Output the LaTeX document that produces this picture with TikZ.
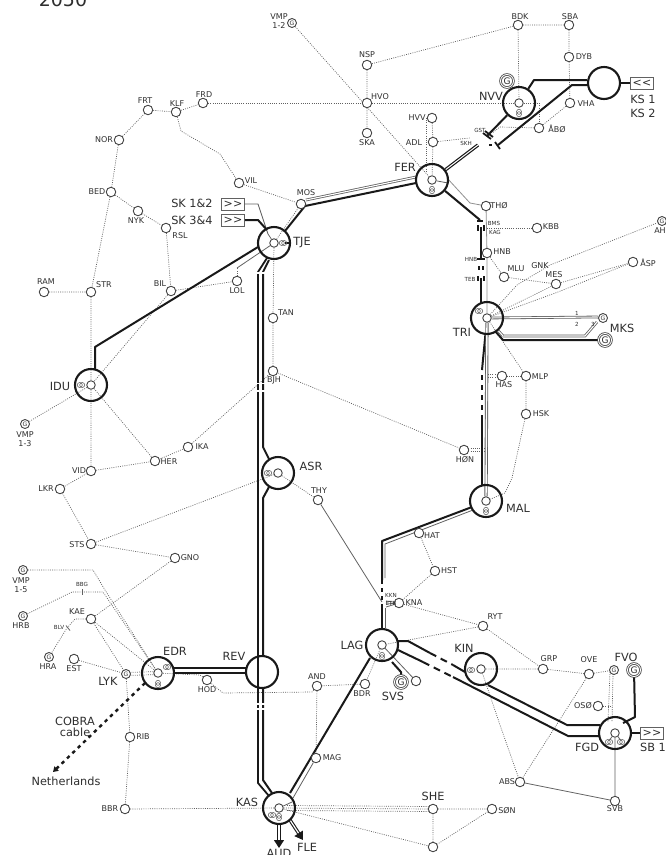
\documentclass[tikz,border=0pt]{standalone}
\usepackage{fontspec}
\setmainfont{DejaVu Sans}
\usetikzlibrary{arrows.meta,calc}
\pgfdeclarelayer{bg}
\pgfsetlayers{bg,main}
\definecolor{ln}{gray}{0.1}
\definecolor{gr}{gray}{0.38}
\definecolor{tx}{gray}{0.18}
\tikzset{
 sm/.style={circle,draw=gr!70!black,fill=white,line width=.9pt,minimum size=9.5pt,inner sep=0pt},
 bigc/.style={circle,draw=ln,line width=2.1pt,minimum size=32pt,inner sep=0pt},
 lb/.style={text=tx,font=\fontsize{8}{9}\selectfont,inner sep=0pt,align=center},
 tl/.style={text=tx,font=\fontsize{5.6}{6}\selectfont,inner sep=0pt},
 bl/.style={text=tx,font=\fontsize{11.3}{11.5}\selectfont,inner sep=0pt,align=center},
 gen/.style={circle,double=white,draw=gr!70!black,line width=.8pt,double distance=.9pt,minimum size=13pt,inner sep=0pt,font=\fontsize{9}{9}\selectfont,text=tx,fill=white},
 gens/.style={circle,draw=gr!70!black,line width=.9pt,minimum size=9pt,inner sep=0pt,font=\fontsize{6}{6}\selectfont,text=tx,fill=white},
 dot/.style={draw=gr,line width=.7pt,dash pattern=on .9pt off 1.3pt},
 thin/.style={draw=gr,line width=.8pt},
 tk/.style={draw=ln,line width=2pt,line join=round},
 tkm/.style={draw=ln,line width=1.8pt,line join=round},
 dbl/.style={draw=gr,line width=.8pt,double=white,double distance=1.1pt},
 dbk/.style={draw=ln,line width=1.2pt,double=white,double distance=1pt},
 boxn/.style={draw=gr,fill=white,line width=.9pt,minimum width=23pt,minimum height=12pt,inner sep=0pt,font=\fontsize{11}{11}\selectfont,text=tx},
 gap/.style={draw=white,line width=1.5pt},
 xfr/.style={circle,draw=gr,line width=.6pt,minimum size=5pt,inner sep=0pt},
}
\newcommand\st[4]{\node[sm](#1) at(#2){}; \node[lb](#1t) at(#3){#4};}
\newcommand\lbl[3]{\node[bl](#1) at(#2){#3};}
\newcommand\tny[3]{\node[tl](#1) at(#2){#3};}
\newcommand\xh[2]{\node[xfr](#1a) at($(#2)+(-1.2,0)$){}; \node[xfr](#1b) at($(#2)+(1.2,0)$){};}
\newcommand\xv[2]{\node[xfr](#1a) at($(#2)+(0,-1.2)$){}; \node[xfr](#1b) at($(#2)+(0,1.2)$){};}
\newcommand\rgt{{>}\kern.3pt{>}}
\newcommand\lft{{<}\kern.3pt{<}}
\begin{document}
\begin{tikzpicture}[x=1pt,y=-1pt]
\useasboundingbox (0,0) rectangle (665,855);
% big stations
\foreach \n/\p in {NVV/{519,103},KS/{604,83},FER/{432,180},TRI/{487,318},MAL/{486,501},LAG/{382,645},KIN/{481,669},FGD/{615,733},KAS/{279,808},TJE/{274,243},IDU/{91,385},ASR/{278,473},EDR/{158,673},REV/{262,672}}
 {\node[bigc](\n) at(\p){};}
% inner nodes
\foreach \n/\p in {NVVi/{519,103},FERi/{432,180},TRIi/{487,318},MALi/{486,501},LAGi/{382,645},KINi/{481,669},FGDi/{615,733},KASi/{279,808},TJEi/{274,243},IDUi/{91,385},ASRi/{278,473},EDRi/{158,673}}
 {\node[sm,minimum size=8.5pt](\n) at(\p){};}
% small stations
\st{BDK}{518,25}{520,17}{BDK}
\st{SBA}{569,25}{570,17}{SBA}
\st{DYB}{569,57}{584,57}{DYB}
\st{NSP}{367,65}{367,55}{NSP}
\st{HVO}{367,103}{380,97}{HVO}
\st{SKA}{367,133}{367,143}{SKA}
\st{HVV}{432,118}{417,118}{HVV}
\st{ADL}{433,142}{414,143}{ADL}
\st{VHA}{570,103}{586,104}{VHA}
\st{ABO}{539,128}{557,129}{ÅBØ}
\st{THO}{486,206}{499,206}{THØ}
\st{KBB}{537,228}{551,227}{KBB}
\st{HNB}{487,253}{502,252}{HNB}
\st{MLU}{504,277}{516,269}{MLU}
\st{MES}{556,284}{554,275}{MES}
\st{ASP}{633,262}{648,263}{ÅSP}
\st{HAS}{502,376}{504,385}{HAS}
\st{MLP}{526,376}{540,377}{MLP}
\st{HSK}{526,414}{541,414}{HSK}
\st{HON}{464,450}{465,460}{HØN}
\st{HAT}{419,533}{432,536}{HAT}
\st{HST}{435,571}{449,571}{HST}
\st{KNA}{399,603}{414,603}{KNA}
\st{RYT}{483,626}{495,617}{RYT}
\st{GRP}{543,669}{549,659}{GRP}
\st{OVE}{589,674}{589,660}{OVE}
\st{OSO}{598,706}{583,706}{OSØ}
\st{BDR}{365,684}{362,694}{BDR}
\st{AND}{317,686}{317,677}{AND}
\st{MAG}{316,758}{332,758}{MAG}
\st{ABS}{520,782}{507,782}{ABS}
\st{SVB}{615,801}{615,809}{SVB}
\st{SON}{492,809}{507,811}{SØN}
\node[sm](SHE) at(433,809){};
\node[sm](BOT) at(433,847){};
\node[sm](XLG) at(416,681){};
\st{RIB}{130,737}{143,737}{RIB}
\st{BBR}{125,809}{110,809}{BBR}
\st{HOD}{207,680}{207,690}{HOD}
\st{EST}{74,659}{74,669}{EST}
\st{KAE}{91,619}{77,612}{KAE}
\st{GNO}{175,558}{190,558}{GNO}
\st{STS}{91,544}{77,545}{STS}
\st{LKR}{60,489}{46,489}{LKR}
\st{VID}{91,471}{79,471}{VID}
\st{HER}{155,461}{169,462}{HER}
\st{IKA}{188,447}{202,447}{IKA}
\st{THY}{318,500}{319,491}{THY}
\st{BJH}{273,371}{274,380}{BJH}
\st{TAN}{273,318}{286,313}{TAN}
\st{LOL}{237,281}{237,291}{LOL}
\st{BIL}{171,291}{160,284}{BIL}
\st{STR}{91,292}{104,285}{STR}
\st{RAM}{44,292}{46,282}{RAM}
\st{FRT}{148,110}{145,101}{FRT}
\st{KLF}{176,112}{177,104}{KLF}
\st{FRD}{203,103}{204,95}{FRD}
\st{NOR}{119,140}{104,140}{NOR}
\st{VIL}{239,183}{251,181}{VIL}
\st{MOS}{301,204}{306,193}{MOS}
\st{BED}{111,192}{97,192}{BED}
\st{NYK}{138,211}{136,221}{NYK}
\st{RSL}{166,228}{180,236}{RSL}
% generators
\node[gen](GNV) at(507,81){G};
\node[gen](GMK) at(605,340){G};
\node[gen](GSV) at(401,682){G};
\node[gen](GFV) at(634,670){G};
\foreach \n/\p in {GV12/{292,23},GAH/{662,221},GMS/{603,318},GV13/{25,424},GV15/{23,570},GHRB/{23,616},GHRA/{49,657},GLYK/{126,674},GFG/{614,670}}
 {\node[gens](\n) at(\p){G};}
% boxes
\node[boxn](BKS) at(642,83){\lft};
\node[boxn](BSK1) at(233,204){\rgt};
\node[boxn](BSK3) at(233,220){\rgt};
\node[boxn](BSB) at(652,733){\rgt};
% transformers
\xv{tFER}{432,190}\xv{tNVV}{519,113}\xv{tMAL}{486,511}\xv{tLAG}{382,656}
\xh{tTJE}{283,243}\xh{tIDU}{81,385}\xh{tASR}{268,473}\xh{tKIN}{471,670}
\xh{tEDR}{167,667}\xv{tEDv}{158,684}\xh{tTRI}{479,311}
\xv{tKA1}{279,817}\xh{tKA2}{272,815}\xh{tFG1}{609,742}\xh{tFG2}{621,742}
% free coordinates
\foreach \n/\p in {a1/{534,80},a2/{587,80},a3/{572,85},a4/{587,85},a5/{498,145},a6/{487,136},a7/{478,145},a8/{480,220},a9/{481,227},a10/{481,259},a11/{481,268},a12/{481,272},a13/{481,278},a14/{481,304},
 b1/{482,370},b2/{482,416},b3/{482,486},b4/{489,416},b5/{382,541},b6/{382,580},b7/{382,607},b8/{382,629},b9/{472,507},
 c1/{95,347},c2/{95,369},c3/{258,247},c4/{305,206},c5/{416,183},c6/{306,200},c7/{416,177},c8/{285,231},
 d1/{258,272},d2/{258,783},d3/{269,796},d4/{263,272},d5/{263,447},d6/{269,459},d7/{269,487},d8/{263,498},d9/{263,656},d10/{263,688},d11/{263,780},d12/{272,793},d13/{267,258},d14/{269,260},
 e1/{244,220},e2/{258,220},e3/{267,230},e4/{244,204},e5/{258,204},e6/{268,234},e7/{237,268},
 f1/{173,668},f2/{247,668},f3/{173,673},f4/{247,673},
 g1/{408,641},g2/{430,653},g3/{453,665},g4/{465,672},g5/{398,641},g6/{488,685},g7/{567,725},g8/{600,725},g9/{398,650},g10/{423,662},g11/{453,677},g12/{568,736},g13/{600,736},
 h1/{635,717},h2/{623,723},h3/{632,733},h4/{503,336},h5/{585,336},h6/{597,322},h7/{495,331},h8/{503,340},h9/{599,340},h10/{502,317},h11/{597,317},
 k0/{370,658},k1/{290,793},k3/{279,823},k4/{279,848},k5/{290,820},k6/{303,840},k7/{145,683},k8/{53,772}}
 {\coordinate(\n) at(\p);}
\begin{pgfonlayer}{bg}
% dotted network
\draw[dot] (NSP)--(BDK) (BDK)--(SBA) (BDK)--(NVVi) (SBA)--(DYB) (DYB)--(VHA) (NSP)--(HVO)--(SKA);
\draw[dot] (FRD)--(HVO)--(NVVi);
\draw[dot] (GV12)--(FERi);
\draw[dot] (HVV)--(ADL) (ADL)--(FERi);
\draw[dot] ($(HVV)+(-6,0)$)--(426,173);
\draw[dot] (VHA)--(ABO);
\draw[dot] (NVVi)--(539,103)--(ABO);
\draw[dot] (ABO)--(500,127)--(492,133);
\draw[dot] (ADL)--(470,138);
\draw[thin] (FERi)--(448,183);
\draw[thin,gr!70] (447,178)--(470,203)--(THO);
\draw[thin,gr!70] (THO)--(HNB)--(TRIi);
\draw[dot] (487,228)--(KBB);
\draw[dot] (HNB)--(MLU)--(MES);
\draw[dot] (TRIi)--(517,285)--(550,265)--(GAH);
\draw[dot] (TRIi)--(MES)--(ASP);
\draw[dot] (TRIi)--(558,292)--(ASP);
\draw[dot] (TRIi)--(MLP)--(HSK)--(512,478)--(505,493)--(MALi);
\draw[dot] (MLP)--(HAS);
\draw[dot] ($(HAS)+(0,-1.5)$)--(488,374.5);\draw[dot] ($(HAS)+(0,1.5)$)--(488,377.5);
\draw[dot] ($(HON)+(0,-1.5)$)--(487,448.5);\draw[dot] ($(HON)+(0,1.5)$)--(487,451.5);
\draw[dot] (BJH)--(HON);
\draw[dot] (HAT)--(HST)--(KNA);
\draw[dot] (KNA)--(RYT)--(LAGi);
\draw[dot] (RYT)--(GRP)--(KINi);
\draw[dot] (GRP)--(OVE)--(GFG);
\draw[dot] (OVE)--(ABS);
\draw[dot] (KINi)--(500,725)--(ABS);
\draw[dot] (OSO)--(612,706);
\draw[dot] (610,672)--(608,722);\draw[dot] (613,674)--(612,722);
\draw[thin] (ABS)--(SVB)--(FGDi);
\draw[thin] (FGDi)--(tFG1a);\draw[thin] (FGDi)--(tFG2b);
\draw[dot] (LAGi)--(BDR)--(AND)--(MAG);
\draw[dot] (AND)--(312,692)--(223,693)--(HOD);
\draw[dot] (HOD)--(200,675)--(EDRi);
\draw[thin] (LAGi)--(XLG);
\draw[dot] (BBR)--(KASi);
\draw[dot] (RIB)--(BBR);
\draw[dot] (GLYK)--(RIB);
\draw[dot] (EST)--(GLYK);
\draw[dot] ($(GLYK)+(0,-1.5)$)--($(EDRi)+(0,-1.5)$);\draw[dot] ($(GLYK)+(0,1.5)$)--($(EDRi)+(0,1.5)$);
\draw[dot] (KAE)--(GLYK);
\draw[dot] (KAE)--(EDRi);
\draw[dot] (KAE)--(GNO);
\draw[dot] (KAE)--(75,619)--(67,628)--(GHRA);
\draw[thin] (66,625.5)--(70,630.5);
\draw[dot] (GHRB)--(72,592)--(103,592)--(EDRi);
\draw[thin] (82,589)--(82,595);
\draw[dot] (GV15)--(93,570)--(105,590)--(EDRi);
\draw[dot] (STS)--(GNO);
\draw[dot] (STS)--(ASRi);
\draw[dot] (ASRi)--(THY);
\draw[thin] (THY)--(382,602);
\draw[dot] (LKR)--(STS) (VID)--(LKR) (VID)--(HER)--(IKA) (IKA)--(BJH);
\draw[dot] (IDUi)--(VID) (IDUi)--(HER) (IDUi)--(GV13);
\draw[dot] (STR)--(IDUi) (RAM)--(STR) (BED)--(STR) (BIL)--(IDUi);
\draw[dot] (BIL)--(LOL) (RSL)--(BIL);
\draw[dot] (BED)--(NYK)--(RSL) (NOR)--(BED) (NOR)--(FRT)--(KLF)--(FRD);
\draw[dot] (KLF)--(181,131)--(220,154)--(VIL)--(MOS);
\draw[dot] (TJEi)--(MOS);
\draw[dot] (TJEi)--(TAN)--(BJH);
\draw[dot] (LOL)--(e7);
\draw[thin] (TJEi)--(e7);
\draw[dot] (KASi)--(SHE);
\draw[dot] ($(KASi)+(8,-2.5)$)--($(SHE)+(-4,-2.5)$);
\draw[dot] ($(KASi)+(8,2.5)$)--($(SHE)+(-4,2.5)$);
\draw[dot] (KASi)--(BOT);
\draw[dot] (SHE)--(SON)--(BOT)--(SHE);
% thin specials
\draw[thin] (MAG)--(293,798);
\draw[thin] (KASi)--(292,802);
\draw[thin] (BSK1)--(e5)--(e6)--(TJEi);
% heavy lines
\draw[tk] (NVV)--(a1)--(a2);
\draw[tk] (a5)--(a3)--(a4);
\draw[tk] (NVV)--(a6);
\draw[tk] (KS)--(BKS);
\draw[dbk] (FER)--(a7);
\draw[tkm] (489,145)--(492,145);
\draw[tkm] (483,133)--(491,139) (485,131)--(493,137);
\draw[tkm] (495,142)--(500,149);
\draw[tk] (FER)--(a8);
\draw[tkm] (477,221)--(483,221);
\draw[tk] (a9)--(a10);
\draw[tkm] (478,225)--(478,231) (484,225)--(484,231);
\draw[tkm] (477,259)--(485,259);
\draw[tk] (479,266)--(479,270) (483,266)--(483,270);
\draw[tkm] (478,276)--(478,281) (484,276)--(484,281);
\draw[tk] (a13)--(a14);
\draw[tk] (TRI)--(b1);
\draw[tk,dash pattern=on 5pt off 5pt] (482,375)--(b2);
\draw[tk] (b2)--(b3);
\draw[draw=gr,line width=.9pt,double=white,double distance=1.4pt] (TRIi)--(MALi);
\draw[tk] (b9)--(b5)--(b6);
\draw[thin] (473,510)--(385,544)--(385,578);
\draw[thin] (385,608)--(385,628);
\draw[tk,dash pattern=on 4pt off 4pt] (b6)--(b7);
\draw[tk] (b7)--(b8);
\draw[thin] (386,601)--(KNA) (386,604)--(KNA) (386,607)--(KNA);
\draw[tk] (tTJEa)--(TJE);
\draw[tk] (c3)--(c1)--(c2);
\draw[tk] (c8)--(c4);
\draw[tk] (c4)--(c5);
\draw[dbl] (c6)--(c7);
\draw[tk] (BSK3)--(e1)--(e2)--(e3);
\draw[tkm] (d13)--(d1)--(d2)--(d3);
\draw[tk] (d14)--(d4)--(d5)--(d6);
\draw[tk] (d7)--(d8)--(d9);
\draw[tk] (d10)--(d11)--(d12);
\draw[gap] (256,273)--(266,273);
\draw[gap] (256,383.5)--(266,383.5);\draw[gap] (256,391)--(266,391);
\draw[gap] (256,704)--(266,704);\draw[gap] (256,709)--(266,709);
\draw[tk,line width=1.7pt] (f1)--(f2);
\draw[tk,line width=1.7pt] (f3)--(f4);
\draw[tk] (k0)--(k1);
\draw[tk] (g5)--(g1)--(g2);
\draw[tk,dash pattern=on 7pt off 5pt on 7pt off 5pt] (g2)--(g3);
\draw[tk] (g3)--(g4);
\draw[tk] (g6)--(g7)--(g8);
\draw[tk] (g9)--(g10);
\draw[tk,dash pattern=on 7pt off 5pt on 7pt off 5pt] (g10)--(g11);
\draw[tk] (g11)--(g12)--(g13);
\draw[tk] (GFV)--(h1)--(h2);
\draw[tk] (h3)--(BSB);
\draw[dbl] (TRIi)--(h11)--(GMS);
\draw[dbl] (h4)--(h5)--(h6);
\draw[dbl] (TRI)--(h4);
\draw[tk] (h7)--(h8)--(GMK);
\draw[tk] (GSV)--(401,672)--(392,662);
\draw[draw=ln,line width=1.1pt,double=white,double distance=1.2pt,-{Triangle[length=8pt,width=10pt]}] (k3)--(k4);
\draw[draw=ln,line width=1.1pt,double=white,double distance=1.2pt,-{Triangle[length=8pt,width=10pt]}] (k5)--(k6);
\draw[line width=2.4pt,ln,dash pattern=on 3.5pt off 4pt,-{Triangle[length=5pt,width=6pt]}] (k7)--(k8);
\end{pgfonlayer}
% small ticks and labels
\tny{tGST}{480,130}{GST}\tny{tSKH}{466,143}{SKH}\tny{tBMS}{494,223}{BMS}\tny{tKAG}{495,232}{KAG}
\tny{tHNB}{471,259}{HNB}\tny{tTEB}{470,279}{TEB}\tny{tKKN}{391,595}{KKN}\tny{tETB}{391,603}{ETB}
\tny{tBBG}{82,584}{BBG}\tny{tBLV}{59,627}{BLV}
\node[tl](n1) at(577,313){1};\node[tl](n2) at(577,324){2};\node[tl](n3) at(593,324){3};
\node[lb](tV12) at(279,21){VMP\\1-2};
\node[lb](tV13) at(25,439){VMP\\1-3};
\node[lb](tV15) at(21,585){VMP\\1-5};
\node[lb](tHRB) at(21,626){HRB};
\node[lb](tHRA) at(48,667){HRA};
\node[lb](tAH) at(660,231){AH};
\node[lb](tGNK2) at(540,266){GNK};
\lbl{tNVV2}{491,96}{NVV}\lbl{tFER2}{405,167}{FER}\lbl{tTRI2}{462,332}{TRI}\lbl{tMKS}{622,328}{MKS}
\lbl{tMAL2}{518,508}{MAL}\lbl{tLAG2}{352,645}{LAG}\lbl{tKIN2}{464,648}{KIN}\lbl{tSVS}{393,696}{SVS}
\lbl{tFVO}{626,657}{FVO}\lbl{tFGD}{587,747}{FGD}\lbl{tSB}{653,747}{SB 1}\lbl{tSHE}{433,796}{SHE}
\lbl{tAUD}{279,853}{AUD}\lbl{tFLE}{307,847}{FLE}\lbl{tKAS2}{247,802}{KAS}\lbl{tEDR2}{175,651}{EDR}
\lbl{tREV}{234,656}{REV}\lbl{tLYK}{108,681}{LYK}\lbl{tCOB}{75,727}{COBRA\\cable}\lbl{tNet}{66,781}{Netherlands}
\lbl{tTJE2}{302,243}{TJE}\lbl{tIDU2}{60,386}{IDU}\lbl{tASR2}{311,466}{ASR}\lbl{tSK1}{192,203}{SK 1\&2}
\lbl{tSK3}{192,220}{SK 3\&4}\lbl{tKS1}{643,99}{KS 1}\lbl{tKS2}{643,113}{KS 2}
\node[text=tx,font=\fontsize{19}{20}\selectfont,inner sep=0pt,anchor=base](tYear) at(63,6){2050};
\end{tikzpicture}
\end{document}
